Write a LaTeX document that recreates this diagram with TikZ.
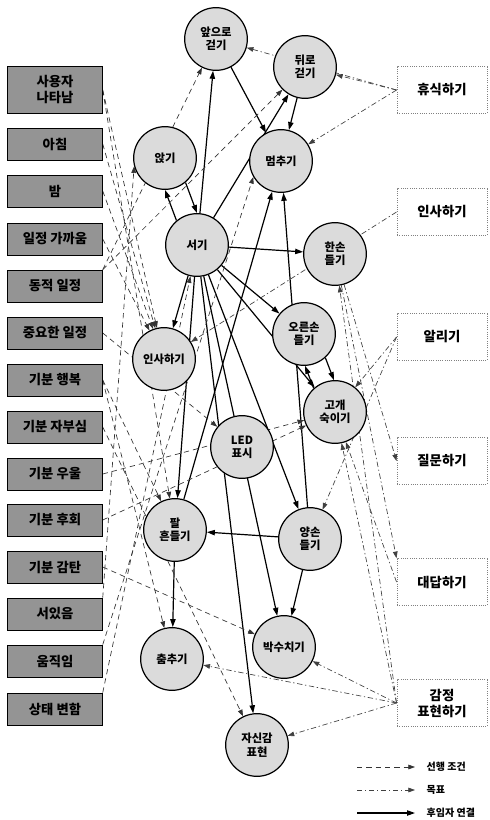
\documentclass[tikz,border=0pt]{standalone}
\usepackage{fontspec}
\setmainfont{Noto Sans CJK KR}
\usetikzlibrary{arrows.meta}
\pgfdeclarelayer{bg}
\pgfsetlayers{bg,main}
\begin{document}
\begin{tikzpicture}[x=0.75pt,y=-0.75pt,
  circ/.style={circle,draw,line width=0.9pt,fill=black!14,minimum size=47pt,inner sep=0pt,align=center,font=\bfseries\fontsize{8.5}{10}\selectfont},
  lbox/.style={rectangle,draw,line width=0.6pt,fill=black!42,minimum width=71pt,minimum height=24pt,inner sep=0pt,align=center,font=\bfseries\fontsize{10}{12}\selectfont},
  rbox/.style={rectangle,draw=gray,densely dotted,line width=0.7pt,fill=white,minimum width=67.5pt,minimum height=35pt,inner sep=0pt,align=center,font=\bfseries\fontsize{10}{12}\selectfont},
  pre/.style={draw=black!80,line width=0.5pt,dash pattern=on 4pt off 3pt,-{Triangle[length=5pt,width=3.5pt]}},
  goal/.style={draw=black!75,line width=0.5pt,dash pattern=on 4pt off 2pt on 1pt off 2pt,-{Triangle[length=5pt,width=3.5pt]}},
  succ/.style={draw=black,line width=0.9pt,-{Triangle[length=6pt,width=4pt]}},
  legtext/.style={anchor=west,font=\bfseries\fontsize{7.5}{8}\selectfont}
]
\useasboundingbox (0,0) rectangle (489,820);
% left condition boxes
\node[lbox,minimum height=35pt] (u) at (55,90) {사용자\\나타남};
\node[lbox] (m) at (55,144) {아침};
\node[lbox] (n) at (55,191) {밤};
\node[lbox] (s) at (55,239) {일정 가까움};
\node[lbox] (d) at (55,286) {동적 일정};
\node[lbox] (i) at (55,333) {중요한 일정};
\node[lbox] (h) at (55,380) {기분 행복};
\node[lbox] (p) at (55,427) {기분 자부심};
\node[lbox] (g) at (55,474) {기분 우울};
\node[lbox] (r) at (55,520) {기분 후회};
\node[lbox] (a) at (55,567) {기분 감탄};
\node[lbox] (st) at (55,614) {서있음};
\node[lbox] (mv) at (55,661) {움직임};
\node[lbox] (ch) at (55,709) {상태 변함};
% right goal boxes
\node[rbox] (G1) at (442,90) {휴식하기};
\node[rbox] (G2) at (442,212) {인사하기};
\node[rbox] (G3) at (442,337) {알리기};
\node[rbox] (G4) at (442,461) {질문하기};
\node[rbox] (G5) at (442,582) {대답하기};
\node[rbox] (G6) at (442,703) {감정\\표현하기};
% behaviour circles
\node[circ] (fwd) at (216,39) {앞으로\\걷기};
\node[circ] (bwd) at (305,67) {뒤로\\걷기};
\node[circ] (stop) at (281,161) {멈추기};
\node[circ] (sit) at (165,158) {앉기};
\node[circ] (stand) at (197,245) {서기};
\node[circ] (one) at (335,254) {한손\\들기};
\node[circ] (rh) at (304,334) {오른손\\들기};
\node[circ] (bow) at (335,412) {고개\\숙이기};
\node[circ] (greet) at (164,359) {인사하기};
\node[circ] (led) at (242,447) {LED\\표시};
\node[circ] (wave) at (175,530) {팔\\흔들기};
\node[circ] (both) at (310,539) {양손\\들기};
\node[circ] (clap) at (284,647) {박수치기};
\node[circ] (dance) at (172,659) {춤추기};
\node[circ] (conf) at (257,745) {자신감\\표현};
% legend
\coordinate (l1a) at (357,767); \coordinate (l1b) at (415,767);
\coordinate (l2a) at (357,790); \coordinate (l2b) at (415,790);
\coordinate (l3a) at (357,813); \coordinate (l3b) at (415,813);
\draw[pre] (l1a) -- (l1b);
\draw[goal] (l2a) -- (l2b);
\draw[succ] (l3a) -- (l3b);
\node[legtext] (t1) at (422,767) {선행 조건};
\node[legtext] (t2) at (422,790) {목표};
\node[legtext] (t3) at (422,813) {후임자 연결};

\begin{pgfonlayer}{bg}
% successor links
\draw[succ] (stand) -- (fwd);
\draw[succ] (fwd) -- (stop);
\draw[succ] (stand) -- (bwd);
\draw[succ] (bwd) -- (stop);
\draw[succ] (sit.-50) -- (stand.90);
\draw[succ] (stand.130) -- (sit.-90);
\draw[succ] (stand) -- (one);
\draw[succ] (stand) -- (greet);
\draw[succ] (stand) -- (rh);
\draw[succ] (stand) -- (bow);
\draw[succ] (stand) -- (wave);
\draw[succ] (stand) -- (both);
\draw[succ] (stand) -- (clap);
\draw[succ] (stand) -- (conf);
\draw[succ] (wave) -- (stop);
\draw[succ] (both) -- (stop);
\draw[succ] (rh.-48) -- (bow.92);
\draw[succ] (bow.132) -- (rh.-88);
\draw[succ] (both) -- (wave);
\draw[succ] (wave) -- (dance);
\draw[succ] (both) -- (clap);
% preconditions
\draw[pre] (u.east) -- (greet);
\draw[pre] (m.east) -- (greet);
\draw[pre] (n.east) -- (greet);
\draw[pre] (s.east) -- (greet);
\draw[pre] (u.east) -- (wave);
\draw[pre] (d.north east) -- (fwd);
\draw[pre] (d.north east) -- (bwd);
\draw[pre] (i.east) -- (led);
\draw[pre] (h.east) -- (dance);
\draw[pre] (h.east) -- (wave);
\draw[pre] (p.east) -- (conf);
\draw[pre] (g.east) -- (bow);
\draw[pre] (r.east) -- (bow);
\draw[pre] (a.east) -- (clap);
\draw[pre] (st.north east) -- (sit.195);
\draw[pre] (mv.north east) -- (stop.210);
\draw[pre] (ch.north east) -- (stand);
% goals
\draw[goal] (G1.west) -- (bwd);
\draw[goal] (G1.west) -- (fwd);
\draw[goal] (G1.west) -- (stop);
\draw[goal] (G2.west) -- (greet);
\draw[goal] (G3.west) -- (bow);
\draw[goal] (G3.west) -- (both);
\draw[goal] (one) -- (G4.west);
\draw[goal] (one) -- (G5.north west);
\draw[goal] (G6.west) -- (one);
\draw[goal] (G6.west) -- (bow);
\draw[goal] (G5.west) -- (bow);
\draw[goal] (G6.west) -- (clap);
\draw[goal] (G6.west) -- (dance);
\draw[goal] (G6.west) -- (conf);
\end{pgfonlayer}
\end{tikzpicture}
\end{document}
